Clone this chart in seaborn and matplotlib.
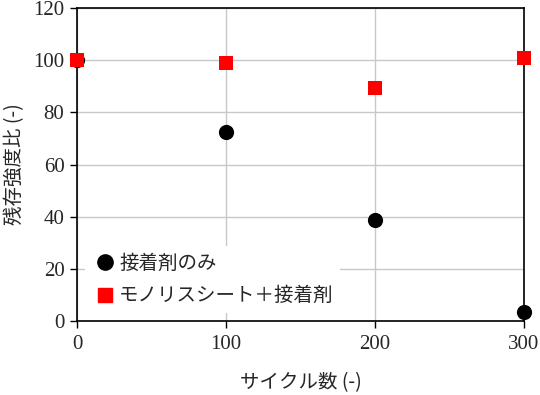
import matplotlib
matplotlib.use("Agg")
import matplotlib.pyplot as plt
import seaborn as sns
import pandas as pd
from matplotlib.lines import Line2D

cycles = [0, 100, 200, 300]
adhesive_only = [100, 72.5, 38.8, 3.3]
monolith_adhesive = [100, 98.9, 89.2, 100.7]
series_names = ["接着剤のみ", "モノリスシート＋接着剤"]
xticks = [0, 100, 200, 300]
yticks = [0, 20, 40, 60, 80, 100, 120]
xlabel = "サイクル数 (-)"
ylabel = "残存強度比 (-)"

df = pd.DataFrame({
    "cycle": cycles * 2,
    "ratio": adhesive_only + monolith_adhesive,
    "series": [series_names[0]] * 4 + [series_names[1]] * 4,
})

sns.set_style("white")
plt.rcParams["font.family"] = ["Liberation Serif", "Noto Sans CJK JP"]
jp = ["Noto Sans CJK JP", "Liberation Serif"]

fig = plt.figure(figsize=(5.4, 3.95), dpi=100)
ax = fig.add_axes([77 / 540, 1 - 321 / 395, 447 / 540, 313 / 395])

colors = {series_names[0]: "black", series_names[1]: "#ff0000"}
markers = {series_names[0]: "o", series_names[1]: "s"}
sizes = {series_names[0]: 120, series_names[1]: 90}
for name in series_names:
    sub = df[df["series"] == name]
    sns.scatterplot(data=sub, x="cycle", y="ratio", ax=ax, color=colors[name],
                    marker=markers[name], s=sizes[name], linewidth=0,
                    clip_on=False, zorder=3 + series_names.index(name), legend=False)

ax.set_xlim(0, 300)
ax.set_ylim(0, 120)
ax.set_xticks(xticks)
ax.set_yticks(yticks)
ax.grid(True, color="#c8c8c8", linewidth=1)
ax.set_axisbelow(True)
for s in ax.spines.values():
    s.set_color("black")
    s.set_linewidth(1.2)
ax.tick_params(axis="both", direction="out", length=5, width=1, color="black",
               labelsize=15, bottom=True, left=True)
ax.tick_params(axis="x", pad=5)
ax.tick_params(axis="y", pad=4)
ax.set_xlabel(xlabel, fontsize=14, family=jp, labelpad=13)
ax.set_ylabel(ylabel, fontsize=14, family=jp, labelpad=6)

handles = [
    Line2D([], [], linestyle="none", marker="o", color="black", markersize=11),
    Line2D([], [], linestyle="none", marker="s", color="#ff0000", markersize=10),
]
leg = ax.legend(handles, series_names, loc="upper left",
                bbox_to_anchor=(0.018, 0.24), borderaxespad=0, borderpad=0.35,
                handletextpad=0.0, handlelength=1.4, labelspacing=0.6,
                frameon=True, fancybox=False, framealpha=1,
                prop={"family": jp, "size": 14})
leg.get_frame().set_edgecolor("none")
leg.get_frame().set_facecolor("white")

fig.savefig("out.png", dpi=100)
